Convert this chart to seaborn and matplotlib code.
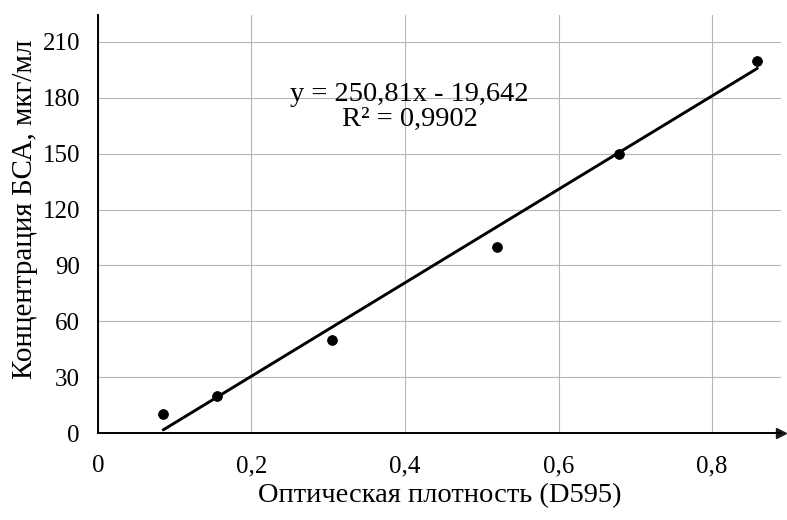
import numpy as np
import pandas as pd
import matplotlib
matplotlib.use("Agg")
import matplotlib.pyplot as plt
import seaborn as sns

# Data
optical_density = [0.085, 0.155, 0.305, 0.52, 0.679, 0.859]
bsa_conc = [10, 20, 50, 100, 150, 200]
slope = 250.81
intercept = -19.642
r2_text = "0,9902"
x_ticks = [0, 0.2, 0.4, 0.6, 0.8]
x_tick_labels = ["0", "0,2", "0,4", "0,6", "0,8"]
y_ticks = [0, 30, 60, 90, 120, 150, 180, 210]

sns.set_theme(style="white")
plt.rcParams["font.family"] = ["Liberation Serif", "DejaVu Serif"]

data = pd.DataFrame({"x": optical_density, "y": bsa_conc})
line_x = np.array([min(optical_density), max(optical_density)])
trend = pd.DataFrame({"x": line_x, "y": slope * line_x + intercept})

fig = plt.figure(figsize=(7.87, 5.20), dpi=100)
ax = fig.add_axes([0.1245, 0.1673, 0.868, 0.804])

ax.set_xlim(0, 0.89)
ax.set_ylim(0, 224.5)
ax.set_xticks(x_ticks)
ax.set_xticklabels(x_tick_labels)
ax.set_yticks(y_ticks)
ax.grid(True, color="#b5b5b5", linewidth=0.8)
ax.set_axisbelow(True)

sns.lineplot(data=trend, x="x", y="y", color="black", linewidth=2.1, ax=ax)
sns.scatterplot(data=data, x="x", y="y", color="black", s=50, edgecolor="black", ax=ax, zorder=3)

ax.text(0.406, 175, "y = 250,81x - 19,642\nR² = " + r2_text, ha="center", va="center",
        fontsize=20.5, linespacing=1.0, color="black")

for side in ["top", "right"]:
    ax.spines[side].set_visible(False)
for side in ["left", "bottom"]:
    ax.spines[side].set_color("black")
    ax.spines[side].set_linewidth(1.4)
ax.plot(1, 0, ">k", markersize=7, transform=ax.get_yaxis_transform(), clip_on=False)

ax.tick_params(axis="both", length=0, labelsize=18, colors="black")
ax.tick_params(axis="x", pad=16)
ax.tick_params(axis="y", pad=13)

ax.set_xlabel("Оптическая плотность (D595)", fontsize=20.5, color="black", labelpad=4)
ax.set_ylabel("Концентрация БСА, мкг/мл", fontsize=21, color="black")
ax.yaxis.set_label_coords(-0.088, 0.535)

fig.savefig("out.png", dpi=100)
